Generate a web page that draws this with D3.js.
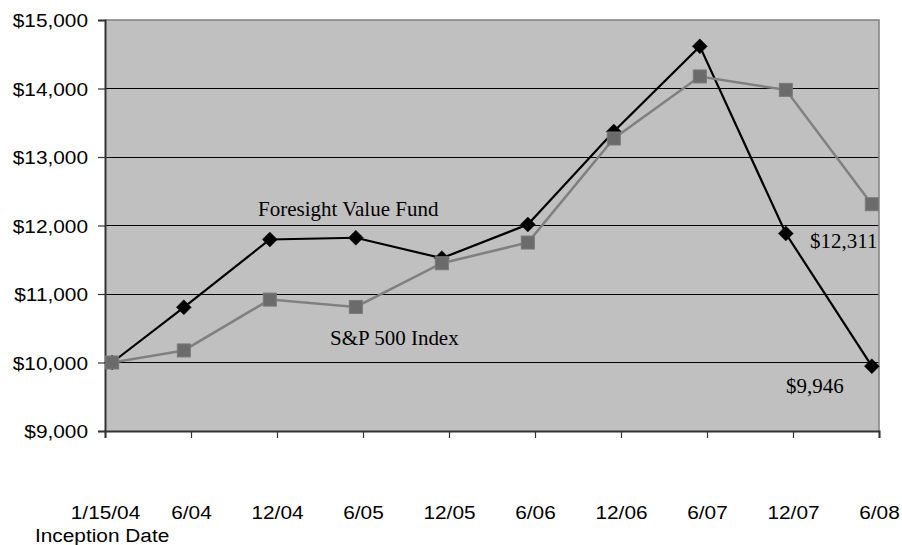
<!DOCTYPE html>
<html>
<head>
<meta charset="utf-8">
<script src="https://cdn.jsdelivr.net/npm/d3@7"></script>
<style>
  html, body { margin: 0; padding: 0; background: #fff; }
  svg { display: block; }
</style>
</head>
<body>
<svg id="chart" width="902" height="545"></svg>
<script>
// ---- data ----
const tickLabels = ["1/15/04", "6/04", "12/04", "6/05", "12/05", "6/06", "12/06", "6/07", "12/07", "6/08"];
const monthIndex = [0, 5, 11, 17, 23, 29, 35, 41, 47, 53]; // months since 1/04
const fundValues = [10000, 10805, 11796, 11821, 11523, 12015, 13372, 14615, 11883, 9946];
const indexValues = [10000, 10176, 10918, 10811, 11449, 11751, 13270, 14176, 13980, 12311];
const yTicks = [9000, 10000, 11000, 12000, 13000, 14000, 15000];
const seriesNames = ["Foresight Value Fund", "S&P 500 Index"];
const endLabels = ["$9,946", "$12,311"];
const axisNote = "Inception Date";

// ---- layout ----
const svg = d3.select("#chart");
const L = 105, R = 879, T = 20, B = 431;
const SX = 1.12; // horizontal stretch of sans text

const x = d3.scaleLinear().domain([-0.5, 53.5]).range([L, R]);
const y = d3.scaleLinear().domain([9000, 15000]).range([B, T]);
const tickVals = tickLabels.map((d, i) => -0.5 + 6 * i);

// plot background
svg.append("rect").attr("x", L).attr("y", T).attr("width", R - L).attr("height", B - T)
  .attr("fill", "#c0c0c0");

// gridlines
svg.append("g").selectAll("line").data(yTicks.slice(1, -1)).join("line")
  .attr("x1", L).attr("x2", R).attr("y1", d => y(d)).attr("y2", d => y(d))
  .attr("stroke", "#000").attr("stroke-width", 1).attr("shape-rendering", "crispEdges");

// top and right border
svg.append("path")
  .attr("d", `M${L},${y(15000)}H${R}V${B}`)
  .attr("fill", "none").attr("stroke", "#808080").attr("stroke-width", 1.5);

// y axis
const yAxis = svg.append("g").attr("transform", `translate(${L},0)`)
  .call(d3.axisLeft(y).tickValues(yTicks).tickSize(7).tickPadding(0)
    .tickFormat(d => "$" + d3.format(",")(d)));
yAxis.select(".domain").attr("stroke", "#333").attr("stroke-width", 2);
yAxis.selectAll(".tick line").attr("stroke", "#333").attr("stroke-width", 1.2);
yAxis.selectAll(".tick text")
  .attr("font-family", "Liberation Sans, Arial, sans-serif").attr("font-size", 18.6)
  .attr("fill", "#000").attr("text-anchor", "end")
  .attr("x", -17 / SX).attr("dy", "0.36em")
  .attr("transform", `scale(${SX},1)`);

// x axis
const xAxis = svg.append("g").attr("transform", `translate(0,${B})`)
  .call(d3.axisBottom(x).tickValues(tickVals).tickSize(7).tickPadding(0)
    .tickFormat((d, i) => tickLabels[i]));
xAxis.select(".domain").attr("stroke", "#333").attr("stroke-width", 2);
xAxis.selectAll(".tick line").attr("stroke", "#333").attr("stroke-width", 1.2);
xAxis.selectAll(".tick text")
  .attr("font-family", "Liberation Sans, Arial, sans-serif").attr("font-size", 18.6)
  .attr("fill", "#000").attr("text-anchor", "middle")
  .attr("y", 88).attr("dy", 0)
  .attr("transform", `scale(${SX},1)`);

// "Inception Date"
svg.append("text").attr("transform", `translate(35,542) scale(${SX},1)`)
  .attr("font-family", "Liberation Sans, Arial, sans-serif").attr("font-size", 18.6)
  .attr("fill", "#000").text(axisNote);

// lines
const line = d3.line().x(d => x(d[0])).y(d => y(d[1]));
const fundPts = monthIndex.map((m, i) => [m, fundValues[i]]);
const idxPts = monthIndex.map((m, i) => [m, indexValues[i]]);

svg.append("path").datum(fundPts).attr("d", line)
  .attr("fill", "none").attr("stroke", "#000").attr("stroke-width", 2.2);
svg.append("g").selectAll("path").data(fundPts).join("path")
  .attr("transform", d => `translate(${x(d[0])},${y(d[1])})`)
  .attr("d", "M0,-7.5L7.5,0L0,7.5L-7.5,0Z")
  .attr("fill", "#000").attr("stroke", "#111").attr("stroke-width", 0.5);

svg.append("path").datum(idxPts).attr("d", line)
  .attr("fill", "none").attr("stroke", "#808080").attr("stroke-width", 2.5);
svg.append("g").selectAll("rect").data(idxPts).join("rect")
  .attr("x", d => x(d[0]) - 6.5).attr("y", d => y(d[1]) - 6.5)
  .attr("width", 13).attr("height", 13)
  .attr("fill", "#6b6b6b").attr("stroke", "#7a7a7a").attr("stroke-width", 1);

// annotations (serif)
const serif = "Liberation Serif, Times New Roman, serif";
svg.append("text").attr("transform", "translate(258,216) scale(1.05,1)")
  .attr("font-family", serif).attr("font-size", 20).attr("fill", "#000").text(seriesNames[0]);
svg.append("text").attr("transform", "translate(330,345) scale(1.05,1)")
  .attr("font-family", serif).attr("font-size", 20).attr("fill", "#000").text(seriesNames[1]);
svg.append("text").attr("transform", "translate(810,248) scale(1.05,1)")
  .attr("font-family", serif).attr("font-size", 20).attr("fill", "#000").text(endLabels[1]);
svg.append("text").attr("transform", "translate(786,393) scale(1.05,1)")
  .attr("font-family", serif).attr("font-size", 20).attr("fill", "#000").text(endLabels[0]);
</script>
</body>
</html>
